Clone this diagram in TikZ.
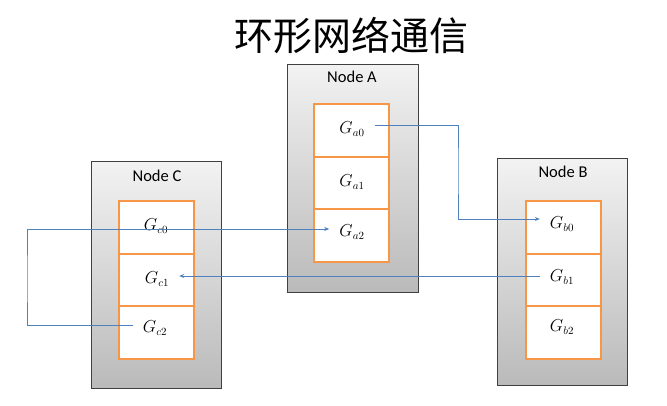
\documentclass[tikz,border=0pt]{standalone}
\usepackage{fontspec}
\setmainfont{Carlito}
\newfontfamily\cjk{Noto Sans CJK SC}
\usetikzlibrary{arrows.meta,calc,backgrounds}
\definecolor{cellorange}{HTML}{F79646}
\definecolor{connblue}{HTML}{4F81BD}
\definecolor{boxedge}{HTML}{404040}
\begin{document}
\begin{tikzpicture}[x=1pt,y=-1pt,
  hostbox/.style={draw=boxedge,line width=0.8pt,top color=black!5,bottom color=black!27,
    minimum width=130pt,minimum height=227pt,inner sep=0pt},
  hostlabel/.style={font=\fontsize{16.5}{18}\selectfont,inner sep=0pt},
  cellbox/.style={draw=cellorange,line width=2pt,minimum width=75pt,minimum height=52.7pt,inner sep=0pt},
  glabel/.style={font=\fontsize{16}{18}\selectfont,inner xsep=10pt,inner ysep=0pt},
  conn/.style={draw=connblue,line width=0.8pt,-{Stealth[length=5pt,width=4pt]}}]
\useasboundingbox (0,0) rectangle (667,405);
\node[font=\cjk\fontsize{39}{42}\selectfont,inner sep=0pt] (title) at (351,36) {环形网络通信};
% cells (borders)
\node[cellbox] (ca0) at (351.5,130.3) {};
\node[cellbox] (ca1) at (351.5,183) {};
\node[cellbox] (ca2) at (351.5,235.7) {};
\node[cellbox] (cc0) at (156.5,227.3) {};
\node[cellbox] (cc1) at (156.5,280) {};
\node[cellbox] (cc2) at (156.5,332.7) {};
\node[cellbox] (cb0) at (563,227.3) {};
\node[cellbox] (cb1) at (563,280) {};
\node[cellbox] (cb2) at (563,332.7) {};
% host boxes and white cell backgrounds, behind
\begin{scope}[on background layer]
\node[hostbox,minimum width=131pt,minimum height=228pt] (hostA) at (352.5,178) {};
\node[hostbox] (hostC) at (156,274.5) {};
\node[hostbox] (hostB) at (562.5,271.5) {};
\fill[white] (ca0.north west) rectangle (ca2.south east);
\fill[white] (cc0.north west) rectangle (cc2.south east);
\fill[white] (cb0.north west) rectangle (cb2.south east);
\end{scope}
% labels
\node[hostlabel] (labA) at (352,77) {Node A};
\node[hostlabel] (labC) at (157,176) {Node C};
\node[hostlabel] (labB) at (563,172) {Node B};
\node[glabel] (ga0) at (352,129) {$G_{a0}$};
\node[glabel] (ga1) at (352,182) {$G_{a1}$};
\node[glabel] (ga2) at (352,232) {$G_{a2}$};
\node[glabel] (gc0) at (156,226) {$G_{c0}$};
\node[glabel] (gc1) at (157,279) {$G_{c1}$};
\node[glabel] (gc2) at (155,328) {$G_{c2}$};
\node[glabel] (gb0) at (562,224) {$G_{b0}$};
\node[glabel] (gb1) at (562,277) {$G_{b1}$};
\node[glabel] (gb2) at (562,327) {$G_{b2}$};
% connectors
\coordinate (bendAB) at (458,170);
\coordinate (bendCA) at (27,280);
\draw[conn] ([yshift=4pt]ga0.east) -| (bendAB) |- ([yshift=5pt]gb0.west);
\draw[conn] ([yshift=1pt]gb1.west) -- ([yshift=1pt]gb1.west -| gc1.east);
\draw[conn] ([yshift=3pt]gc2.west) -| (bendCA) |- ([yshift=3pt]ga2.west);
\end{tikzpicture}
\end{document}
